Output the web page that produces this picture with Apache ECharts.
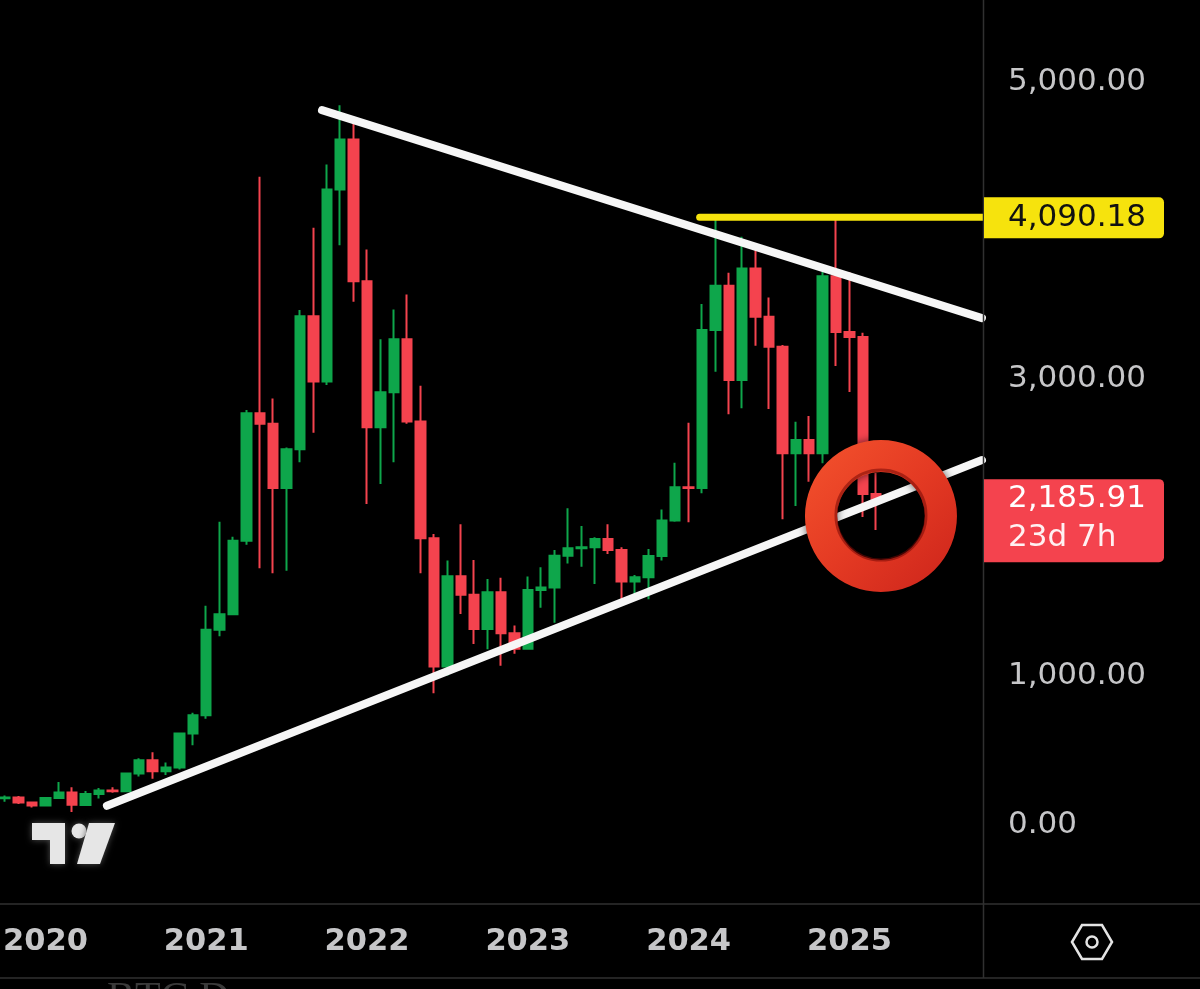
<!DOCTYPE html>
<html><head><meta charset="utf-8">
<script src="https://cdn.jsdelivr.net/npm/echarts@6/dist/echarts.min.js"></script>
<style>html,body{margin:0;padding:0;background:#000;overflow:hidden}#c{width:1200px;height:989px;}</style>
</head><body><div id="c"></div>
<script>
// ---- data (monthly candles) ----
const months = ['2019-10','2019-11','2019-12',
 '2020-01','2020-02','2020-03','2020-04','2020-05','2020-06','2020-07','2020-08','2020-09','2020-10','2020-11','2020-12',
 '2021-01','2021-02','2021-03','2021-04','2021-05','2021-06','2021-07','2021-08','2021-09','2021-10','2021-11','2021-12',
 '2022-01','2022-02','2022-03','2022-04','2022-05','2022-06','2022-07','2022-08','2022-09','2022-10','2022-11','2022-12',
 '2023-01','2023-02','2023-03','2023-04','2023-05','2023-06','2023-07','2023-08','2023-09','2023-10','2023-11','2023-12',
 '2024-01','2024-02','2024-03','2024-04','2024-05','2024-06','2024-07','2024-08','2024-09','2024-10','2024-11','2024-12',
 '2025-01','2025-02','2025-03','2025-04','2025-05','2025-06','2025-07','2025-08','2025-09','2025-10'];
const openP  = [178,183,150, 129,180,218,133,207,231,226,345,434,360,386,615,
 737,1313,1417,1913,2771,2700,2268,2528,3425,2985,4278,4614,
 3660,2676,2912,3270,2716,1930,1066,1673,1548,1319,1566,1290,
 1186,1581,1597,1812,1862,1869,1925,1851,1638,1667,1810,2048,
 2273,2268,3331,3629,2995,3745,3421,3219,2501,2591,2501,3694,
 3318,3284,2227];
const closeP = [184,150,129, 180,218,134,207,231,226,345,434,360,386,615,738,
 1313,1417,1913,2771,2700,2268,2528,3425,2985,4278,4614,3660,
 2676,2912,3270,2716,1930,1066,1673,1548,1319,1566,1290,1186,
 1581,1597,1812,1862,1869,1925,1851,1638,1667,1810,2048,2273,
 2268,3331,3629,2995,3745,3421,3219,2501,2591,2501,3694,3318,
 3284,2227,2185.91];
const lowP   = [155,140,117, 127,180,86,128,176,216,222,325,310,335,372,535,
 714,1270,1410,1885,1727,1694,1711,2441,2640,2961,3903,3522,
 2160,2295,2441,2700,1694,886,1005,1420,1218,1182,1070,1151,
 1184,1462,1361,1760,1738,1622,1824,1521,1526,1519,1779,2040,
 2037,2232,3050,2764,2804,3226,2799,2057,2147,2310,2434,3090,
 2914,2073,1985];
const highP  = [197,193,155, 184,288,253,228,248,253,352,448,488,420,622,755,
 1475,2040,1940,2793,4363,2871,2540,3466,4020,4446,4845,4767,
 3874,3270,3470,3570,2957,1958,1779,2024,1783,1655,1664,1341,
 1671,1734,1851,2131,2012,1936,2024,1869,1682,1857,2123,2438,
 2707,3506,4090.18,3717,3959,3869,3551,3230,2714,2752,3723,4085,
 3721,3313,2369];
const priceTicks = [0,1000,3000,5000];
// drawn annotations, in [month index, price]
const upperTrend = [[23.82,4812],[72.89,3412]];
const lowerTrend = [[7.83,128],[72.89,2456]];
const resistance = 4090.18;
const resistanceLine = [[51.9,resistance],[73.1,resistance]];
const lastPrice = 2185.91;
const countdown = '23d 7h';
const ringAt = [[65.38,2079]];

const GREEN='#0ea64b', RED='#f4434e', YEL='#f6e30d', AX='#c6c6c8', SEP='#303030';
const fmt = v => v.toLocaleString('en-US',{minimumFractionDigits:2,maximumFractionDigits:2});

const chart = echarts.init(document.getElementById('c'), null, {renderer:'canvas'});
const candles = openP.map((o,i)=>[o, closeP[i], lowP[i], highP[i]]);

const LEFT = 1.6, STEP = 13.45, N = months.length;
const overlayMax = 74;
const yRange = {min:-500, max:5500};

const option = {
  backgroundColor:'#000',
  animation:false,
  grid:[
    {left:LEFT, right:1200-(LEFT+(N-1)*STEP), top:8, bottom:90, containLabel:false},
    {left:LEFT, right:1200-(LEFT+overlayMax*STEP), top:8, bottom:90, containLabel:false}
  ],
  xAxis:[{
    type:'category', gridIndex:0, data:months, boundaryGap:false,
    axisLine:{show:false}, axisTick:{show:false}, splitLine:{show:false},
    axisLabel:{
      interval:(i,v)=>v.endsWith('-01'),
      formatter:v=>v.slice(0,4),
      color:AX, fontSize:30.5, fontWeight:'bold', fontFamily:'DejaVu Sans',
      margin:43, verticalAlign:'middle'
    }
  },{
    type:'value', gridIndex:1, min:0, max:overlayMax, show:false
  }],
  yAxis:[{
    type:'value', gridIndex:0, position:'right', min:yRange.min, max:yRange.max, interval:500,
    axisLine:{show:false}, axisTick:{show:false}, splitLine:{show:false},
    axisLabel:{
      formatter:v=>priceTicks.includes(v)?fmt(v):'',
      color:AX, fontSize:31, fontFamily:'DejaVu Sans', margin:1008-(LEFT+(N-1)*STEP), align:'left'
    }
  },{
    type:'value', gridIndex:1, min:yRange.min, max:yRange.max, show:false
  }],
  series:[
    {type:'candlestick', xAxisIndex:0, yAxisIndex:0, data:candles, barWidth:10, z:2,
     itemStyle:{color:GREEN, color0:RED, borderColor:GREEN, borderColor0:RED, borderWidth:2}},
    {type:'line', xAxisIndex:1, yAxisIndex:1, data:upperTrend, symbol:'none', clip:false, z:4,
     lineStyle:{color:'#f6f6f6', width:8, cap:'round'}},
    {type:'line', xAxisIndex:1, yAxisIndex:1, data:lowerTrend, symbol:'none', clip:false, z:4,
     lineStyle:{color:'#f6f6f6', width:8, cap:'round'}},
    {type:'line', xAxisIndex:1, yAxisIndex:1, data:resistanceLine, symbol:'none', clip:false, z:4,
     lineStyle:{color:YEL, width:7, cap:'round'}},
    {type:'custom', xAxisIndex:1, yAxisIndex:1, data:ringAt, clip:false, z:10,
     renderItem:(params, api)=>{
       const p = api.coord([api.value(0), api.value(1)]);
       return {type:'group', children:[
         {type:'ring', shape:{cx:p[0], cy:p[1], r:76, r0:44},
          style:{fill:new echarts.graphic.LinearGradient(0,0,1,1,[
            {offset:0,color:'#f4532d'},{offset:0.5,color:'#e43a23'},{offset:1,color:'#cc241b'}]),
            shadowBlur:8, shadowColor:'rgba(0,0,0,0.6)'}},
         {type:'circle', shape:{cx:p[0], cy:p[1]-1, r:45},
          style:{fill:'none', stroke:'rgba(120,10,5,0.55)', lineWidth:3}}
       ]};
     }}
  ]
};
chart.setOption(option);

const yPix = v => chart.convertToPixel({yAxisIndex:0}, v);
const py = yPix(resistance), pl = yPix(lastPrice);
const font = '31px "DejaVu Sans"';
chart.setOption({graphic:[
  {type:'line', shape:{x1:983.5,y1:0,x2:983.5,y2:978}, style:{stroke:SEP,lineWidth:1.5}, z:20},
  {type:'line', shape:{x1:0,y1:904,x2:1200,y2:904}, style:{stroke:SEP,lineWidth:1.5}, z:20},
  {type:'line', shape:{x1:0,y1:978,x2:1200,y2:978}, style:{stroke:SEP,lineWidth:1.5}, z:20},
  {type:'rect', shape:{x:984,y:py-20,width:180,height:41,r:[0,5,5,0]}, style:{fill:YEL}, z:30},
  {type:'text', x:1008, y:py+1, style:{text:fmt(resistance), font:font, fill:'#111', verticalAlign:'middle'}, z:31},
  {type:'rect', shape:{x:984,y:pl-21,width:180,height:83,r:[0,5,5,0]}, style:{fill:RED}, z:30},
  {type:'text', x:1008, y:pl-1, style:{text:fmt(lastPrice), font:font, fill:'#fff', verticalAlign:'middle'}, z:31},
  {type:'text', x:1008, y:pl+38, style:{text:countdown, font:font, fill:'rgba(255,255,255,0.93)', verticalAlign:'middle'}, z:31},
  // settings hexagon icon
  {type:'polygon', shape:{points:[[1072,942],[1082,925],[1102,925],[1112,942],[1102,959],[1082,959]]},
   style:{fill:'none', stroke:'#e4e4e4', lineWidth:2.5}, z:30},
  {type:'circle', shape:{cx:1092,cy:942,r:5.5}, style:{fill:'none', stroke:'#e4e4e4', lineWidth:2.5}, z:30},
  // TradingView logo
  {type:'polygon', shape:{points:[[32,823],[65,823],[65,864],[50,864],[50,840],[32,840]]},
   style:{fill:'#e6e6e6', shadowBlur:6, shadowColor:'rgba(90,90,90,0.9)'}, z:30},
  {type:'circle', shape:{cx:79,cy:831,r:7.5}, style:{fill:'#e6e6e6', shadowBlur:6, shadowColor:'rgba(90,90,90,0.9)'}, z:30},
  {type:'polygon', shape:{points:[[89,823],[115,823],[100,864],[77,864]]},
   style:{fill:'#e6e6e6', shadowBlur:6, shadowColor:'rgba(90,90,90,0.9)'}, z:30},
  {type:'text', x:107, y:979, style:{text:'BTC.D', font:'42px "Liberation Serif"', fill:'#3a3a3a', verticalAlign:'top'}, z:5}
]});
</script></body></html>
